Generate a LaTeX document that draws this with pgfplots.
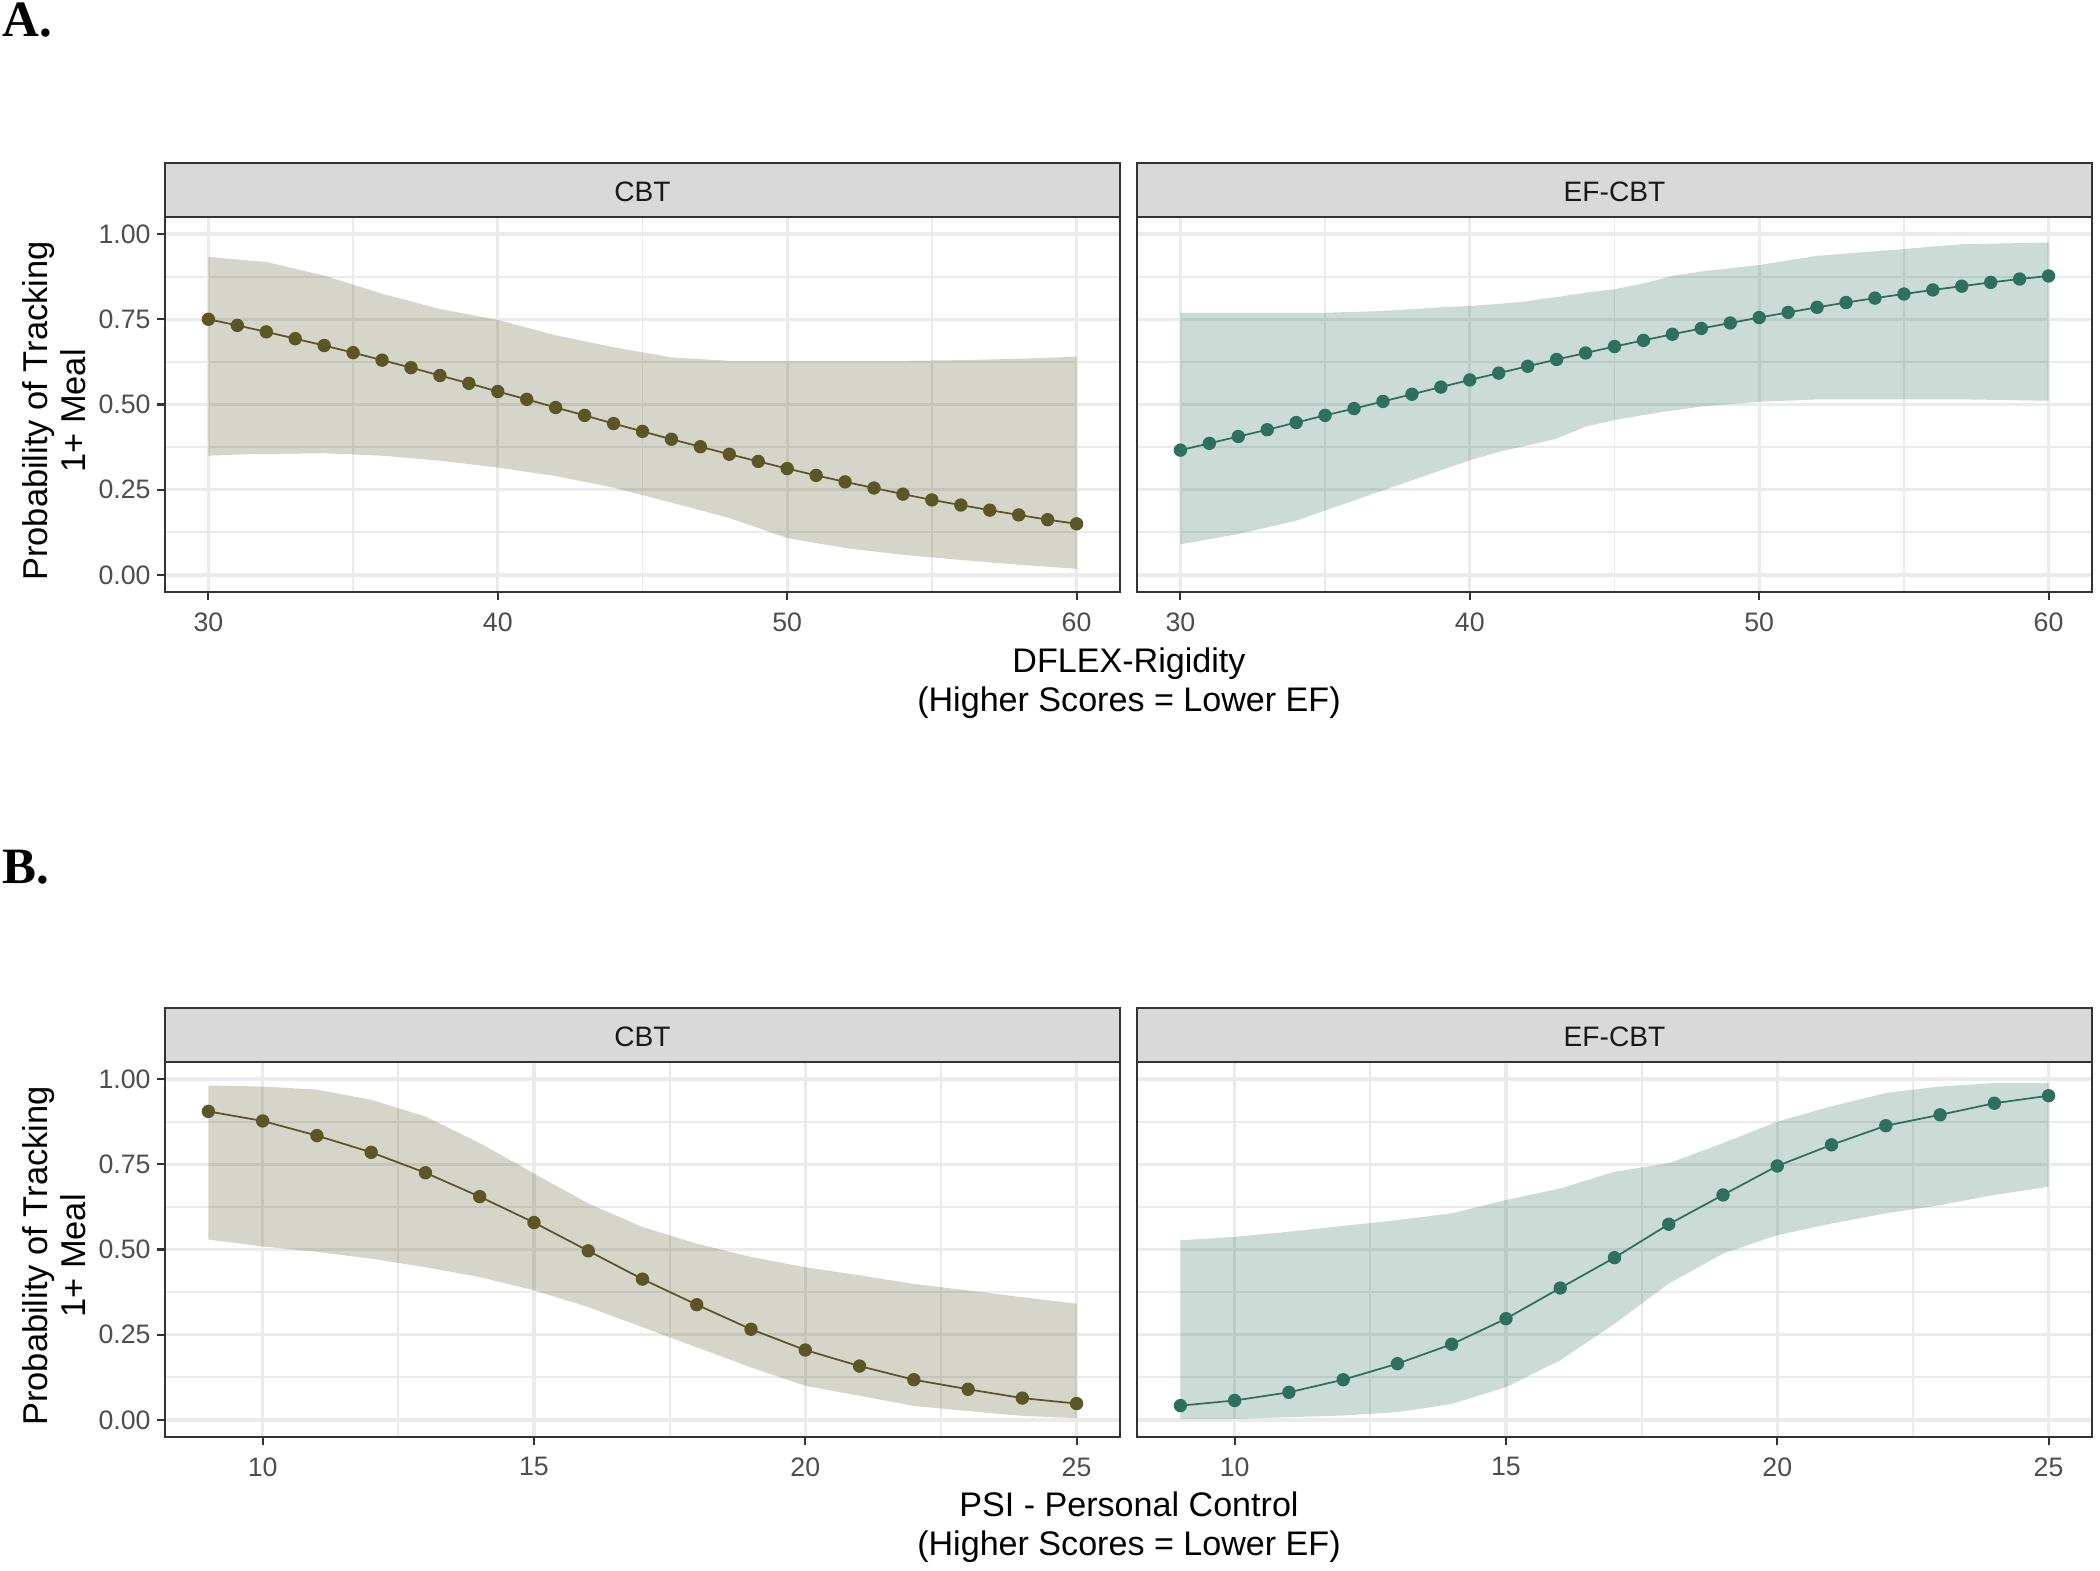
\documentclass[border=0pt]{standalone}
\usepackage{fontspec}
\setmainfont{Liberation Sans}
\newfontfamily\serifbf{Liberation Serif}
\usepackage{graphicx}
\usepackage{pgfplots}
\usepackage{pgfplotstable}
\pgfplotsset{compat=1.18}
\definecolor{cbtcol}{HTML}{5A5627}
\definecolor{efcol}{HTML}{2F6F5D}
\definecolor{gridc}{HTML}{EBEBEB}
\definecolor{borderc}{HTML}{333333}
\definecolor{stripc}{HTML}{D9D9D9}
\definecolor{tickc}{HTML}{4D4D4D}

\pgfplotstableread{
x m
30 0.750
31 0.732
32 0.713
33 0.693
34 0.673
35 0.652
36 0.630
37 0.608
38 0.585
39 0.562
40 0.538
41 0.515
42 0.491
43 0.468
44 0.444
45 0.421
46 0.398
47 0.376
48 0.354
49 0.333
50 0.312
51 0.292
52 0.273
53 0.255
54 0.237
55 0.220
56 0.205
57 0.190
58 0.176
59 0.162
60 0.150
}\Acbt
% ribbon polygon: upper bound left to right, then lower bound right to left
\pgfplotstableread{
x y
30 0.933
31 0.925
32 0.918
34 0.878
36 0.825
38 0.780
40 0.748
42 0.703
44 0.668
46 0.638
48 0.628
50 0.628
52 0.628
54 0.628
56 0.630
58 0.634
60 0.640
60 0.018
58 0.030
56 0.044
54 0.059
52 0.079
50 0.108
48 0.167
46 0.212
44 0.256
42 0.290
40 0.315
38 0.335
36 0.350
34 0.357
32 0.355
31 0.353
30 0.350
}\Acbtr
\pgfplotstableread{
x m
30 0.366
31 0.386
32 0.406
33 0.426
34 0.447
35 0.468
36 0.488
37 0.509
38 0.530
39 0.551
40 0.572
41 0.592
42 0.612
43 0.632
44 0.651
45 0.670
46 0.688
47 0.706
48 0.723
49 0.739
50 0.755
51 0.770
52 0.785
53 0.799
54 0.812
55 0.824
56 0.836
57 0.847
58 0.858
59 0.868
60 0.877
}\Aef
\pgfplotstableread{
x y
30 0.769
32 0.769
34 0.769
35 0.769
37 0.774
39 0.785
40 0.789
41 0.795
42 0.803
43 0.815
44 0.828
45 0.838
46 0.855
47 0.877
48 0.890
50 0.909
52 0.936
55 0.956
57 0.970
60 0.975
60 0.511
57 0.515
55 0.515
52 0.515
50 0.508
48 0.494
47 0.482
46 0.469
45 0.454
44 0.435
43 0.400
42 0.380
41 0.361
40 0.336
39 0.307
37 0.248
35 0.189
34 0.159
32 0.120
30 0.090
}\Aefr
\pgfplotstableread{
x m
9 0.905
10 0.877
11 0.834
12 0.785
13 0.725
14 0.655
15 0.579
16 0.496
17 0.413
18 0.338
19 0.266
20 0.205
21 0.158
22 0.118
23 0.090
24 0.064
25 0.048
}\Bcbt
\pgfplotstableread{
x y
9 0.981
10 0.978
11 0.969
12 0.939
13 0.890
14 0.812
15 0.723
16 0.635
17 0.566
18 0.517
19 0.478
20 0.448
21 0.424
22 0.399
23 0.380
24 0.360
25 0.341
25 0.005
24 0.012
23 0.026
22 0.041
21 0.071
20 0.100
19 0.154
18 0.213
17 0.272
16 0.331
15 0.380
14 0.419
13 0.448
12 0.473
11 0.493
10 0.509
9 0.529
}\Bcbtr
\pgfplotstableread{
x m
9 0.042
10 0.057
11 0.081
12 0.118
13 0.165
14 0.222
15 0.297
16 0.387
17 0.476
18 0.574
19 0.660
20 0.745
21 0.807
22 0.863
23 0.895
24 0.929
25 0.951
}\Bef
\pgfplotstableread{
x y
9 0.527
10 0.537
11 0.552
12 0.569
13 0.586
14 0.606
15 0.645
16 0.679
17 0.728
18 0.753
19 0.812
20 0.875
21 0.920
22 0.959
23 0.978
24 0.988
25 0.988
25 0.684
24 0.660
23 0.630
22 0.606
21 0.576
20 0.542
19 0.488
18 0.400
17 0.282
16 0.175
15 0.096
14 0.047
13 0.023
12 0.013
11 0.008
10 0.003
9 0.003
}\Befr

\pgfplotsset{
  panel/.style={
    scale only axis, width=9.55cm, height=3.75cm,
    ymin=-0.05, ymax=1.05,
    ytick={0,0.25,0.5,0.75,1},
    minor ytick={0.125,0.375,0.625,0.875},
    grid=both,
    major grid style={gridc, line width=0.9pt},
    minor grid style={gridc, line width=0.55pt},
    axis line style={borderc, line width=0.75pt},
    tick align=outside, major tick length=0.08cm, minor tick length=0pt,
    tick style={borderc, line width=0.6pt},
    tick pos=left,
    ticklabel style={font=\fontsize{7.6}{9}\selectfont, text=tickc},
    /pgf/number format/assume math mode=true,
    yticklabel style={xshift=0.06cm, /pgf/number format/fixed, /pgf/number format/fixed zerofill, /pgf/number format/precision=2},
    clip=false,
  },
  panelA/.style={panel, xmin=28.5, xmax=61.5, xtick={30,40,50,60}, minor xtick={35,45,55}},
  panelB/.style={panel, xmin=8.2, xmax=25.8, xtick={10,15,20,25}, minor xtick={12.5,17.5,22.5}},
  rightpanel/.style={yticklabels={}, ytick style={draw opacity=0}},
  ribbon/.style={draw=none, fill opacity=0.25},
  mline/.style={line width=0.5pt, mark=*, mark size=1.65pt},
}

\begin{document}
\begin{tikzpicture}
\path (0,0) rectangle (21,15.71);

% ---------- A ----------
\node[anchor=base west, inner sep=0, font=\serifbf\bfseries\fontsize{14.5}{16}\selectfont] at (0.02,15.34) {A.};
\begin{axis}[panelA, at={(1.65cm,9.79cm)}, anchor=south west]
  \addplot[ribbon, fill=cbtcol] table[x=x, y=y] {\Acbtr};
  \addplot[mline, cbtcol] table[x=x, y=m] {\Acbt};
  \draw[fill=stripc, draw=borderc, line width=0.75pt] (rel axis cs:0,1) rectangle (rel axis cs:1,1.144);
  \node[font=\fontsize{8}{9}\selectfont, text=black!90] at (rel axis cs:0.5,1.068) {CBT};
\end{axis}
\begin{axis}[panelA, rightpanel, at={(11.37cm,9.79cm)}, anchor=south west]
  \addplot[ribbon, fill=efcol] table[x=x, y=y] {\Aefr};
  \addplot[mline, efcol] table[x=x, y=m] {\Aef};
  \draw[fill=stripc, draw=borderc, line width=0.75pt] (rel axis cs:0,1) rectangle (rel axis cs:1,1.144);
  \node[font=\fontsize{8}{9}\selectfont, text=black!90] at (rel axis cs:0.5,1.068) {EF-CBT};
\end{axis}
\node[rotate=90, align=center, inner sep=0, font=\fontsize{9.8}{10.8}\selectfont] at (0.54,11.6) {Probability of Tracking\\1+ Meal};
\node[align=center, inner sep=0, font=\fontsize{9.7}{11}\selectfont] at (11.29,8.88) {DFLEX-Rigidity\\(Higher Scores = Lower EF)};

% ---------- B ----------
\node[anchor=base west, inner sep=0, font=\serifbf\bfseries\fontsize{14.5}{16}\selectfont] at (0.02,6.87) {B.};
\begin{axis}[panelB, at={(1.65cm,1.34cm)}, anchor=south west]
  \addplot[ribbon, fill=cbtcol] table[x=x, y=y] {\Bcbtr};
  \addplot[mline, cbtcol] table[x=x, y=m] {\Bcbt};
  \draw[fill=stripc, draw=borderc, line width=0.75pt] (rel axis cs:0,1) rectangle (rel axis cs:1,1.144);
  \node[font=\fontsize{8}{9}\selectfont, text=black!90] at (rel axis cs:0.5,1.068) {CBT};
\end{axis}
\begin{axis}[panelB, rightpanel, at={(11.37cm,1.34cm)}, anchor=south west]
  \addplot[ribbon, fill=efcol] table[x=x, y=y] {\Befr};
  \addplot[mline, efcol] table[x=x, y=m] {\Bef};
  \draw[fill=stripc, draw=borderc, line width=0.75pt] (rel axis cs:0,1) rectangle (rel axis cs:1,1.144);
  \node[font=\fontsize{8}{9}\selectfont, text=black!90] at (rel axis cs:0.5,1.068) {EF-CBT};
\end{axis}
\node[rotate=90, align=center, inner sep=0, font=\fontsize{9.8}{10.8}\selectfont] at (0.54,3.15) {Probability of Tracking\\1+ Meal};
\node[align=center, inner sep=0, font=\fontsize{9.7}{11}\selectfont] at (11.29,0.44) {PSI - Personal Control\\(Higher Scores = Lower EF)};
\end{tikzpicture}
\end{document}
